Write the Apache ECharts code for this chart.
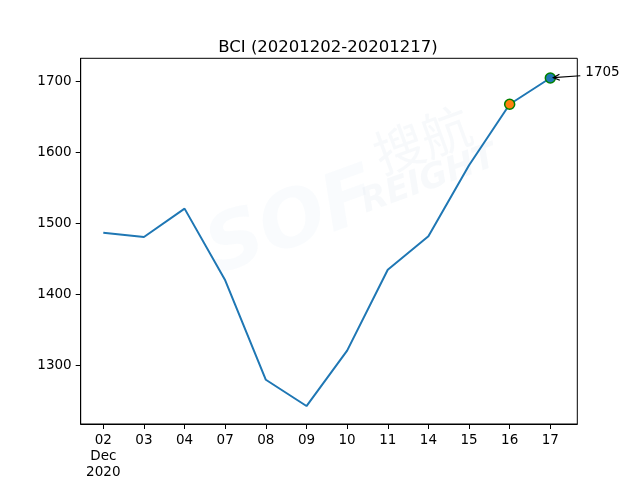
<!DOCTYPE html>
<html>
<head>
<meta charset="utf-8">
<script src="https://cdn.jsdelivr.net/npm/echarts@6/dist/echarts.min.js"></script>
<style>html,body{margin:0;padding:0;background:#fff}#c{width:640px;height:480px}</style>
</head>
<body>
<div id="c"></div>
<script>
const titleText = 'BCI (20201202-20201217)';
const dayLabels = ['02','03','04','07','08','09','10','11','14','15','16','17'];
const firstLabelExtra = ['Dec','2020'];
const bciValues = [1487, 1481, 1521, 1420, 1280, 1243, 1321, 1435, 1482, 1582, 1668, 1705];
const yTicks = [1300, 1400, 1500, 1600, 1700];
const highlightIndex = 10;
const lastIndex = 11;
const annotationText = '1705';

const font = 'DejaVu Sans';
const idx = dayLabels.map((_, i) => i);
const lineData = bciValues.map((v, i) => [i, v]);
const wm = 'rgba(205,215,228,0.16)';

const chart = echarts.init(document.getElementById('c'), null, {renderer: 'canvas'});
chart.setOption({
  animation: false,
  backgroundColor: '#fff',
  title: {
    text: titleText, left: 323, top: 34, textAlign: 'center',
    textStyle: {fontFamily: font, fontSize: 16.5, fontWeight: 'normal', color: '#000'}
  },
  grid: {left: 80.7, right: 62.7, top: 58.3, bottom: 52.7, show: true, borderColor: '#000', borderWidth: 1, backgroundColor: 'transparent'},
  xAxis: {
    type: 'value', min: -0.556, max: 11.664,
    splitLine: {show: false},
    axisLine: {show: true, onZero: false, lineStyle: {color: '#000', width: 1}},
    axisTick: {show: true, length: 5, customValues: idx, lineStyle: {color: '#000'}},
    axisLabel: {
      customValues: idx, margin: 8, color: '#000', fontFamily: font, fontSize: 13.5, lineHeight: 16,
      formatter: v => {
        const i = Math.round(v);
        return i === 0 ? [dayLabels[0]].concat(firstLabelExtra).join('\n') : dayLabels[i];
      }
    }
  },
  yAxis: {
    type: 'value', min: 1217.7, max: 1732.7,
    splitLine: {show: false},
    axisLine: {show: true, onZero: false, lineStyle: {color: '#000', width: 1}},
    axisTick: {show: true, length: 5, customValues: yTicks, lineStyle: {color: '#000'}},
    axisLabel: {customValues: yTicks, margin: 9, color: '#000', fontFamily: font, fontSize: 13.5, formatter: v => String(v)}
  },
  series: [
    {
      type: 'line', data: lineData, symbol: 'none', z: 3,
      lineStyle: {color: '#1f77b4', width: 2}
    },
    {
      type: 'scatter', z: 5, symbol: 'circle', symbolSize: 10,
      data: [[highlightIndex, bciValues[highlightIndex]]],
      itemStyle: {color: '#ff7f0e', borderColor: '#008000', borderWidth: 1.5, opacity: 1}
    },
    {
      type: 'scatter', z: 5, symbol: 'circle', symbolSize: 10,
      data: [[lastIndex, bciValues[lastIndex]]],
      itemStyle: {color: '#1f77b4', borderColor: '#008000', borderWidth: 1.5, opacity: 1}
    }
  ]
});

// annotation arrow + watermark, positioned through the chart's own scales
const pt = chart.convertToPixel({gridIndex: 0}, [lastIndex, bciValues[lastIndex]]);
const head = [pt[0] + 3, pt[1] - 0.3];
const tail = [pt[0] + 30, pt[1] - 2.2];
const ang = Math.atan2(tail[1] - head[1], tail[0] - head[0]);
const hl = 7, hw = 0.45;
const h1 = [head[0] + hl * Math.cos(ang + hw), head[1] + hl * Math.sin(ang + hw)];
const h2 = [head[0] + hl * Math.cos(ang - hw), head[1] + hl * Math.sin(ang - hw)];
const c0 = chart.convertToPixel({gridIndex: 0}, [5.5, 1500]);
chart.setOption({
  graphic: [
    {type: 'text', x: c0[0] + 40, y: c0[1] - 90, rotation: 0.35, z: 0, silent: true,
     style: {text: '搜航', fontFamily: 'Noto Sans CJK SC', fontSize: 50, fill: wm}},
    {type: 'text', x: c0[0] + 30, y: c0[1] - 35, rotation: 0.35, z: 0, silent: true,
     style: {text: 'REIGHT', fontFamily: font, fontWeight: 'bold', fontStyle: 'italic', fontSize: 34, fill: wm}},
    {type: 'text', x: c0[0] - 130, y: c0[1] - 5, rotation: 0.35, z: 0, silent: true,
     style: {text: 'SOF', fontFamily: font, fontWeight: 'bold', fontStyle: 'italic', fontSize: 78, fill: 'rgba(210,225,240,0.14)'}},
    {type: 'line', z: 10, silent: true, shape: {x1: tail[0], y1: tail[1], x2: head[0], y2: head[1]},
     style: {stroke: '#000', lineWidth: 1.2}},
    {type: 'polyline', z: 10, silent: true, shape: {points: [h1, head, h2]},
     style: {stroke: '#000', lineWidth: 1.2, fill: null}},
    {type: 'text', z: 10, silent: true, x: tail[0] + 5, y: tail[1] - 3.5,
     style: {text: annotationText, fontFamily: font, fontSize: 13.5, fill: '#000', verticalAlign: 'middle', align: 'left'}}
  ]
});
</script>
</body>
</html>
